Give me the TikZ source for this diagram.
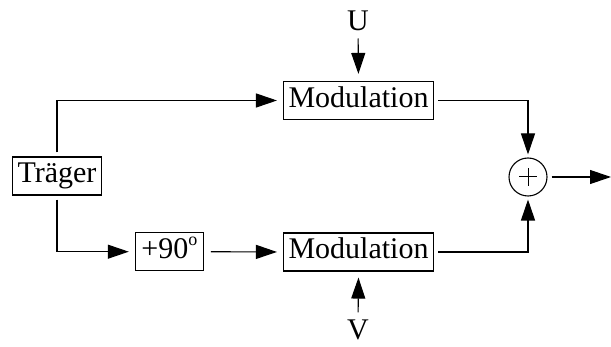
\documentclass[tikz,border=0pt]{standalone}
\usepackage{fontspec}
\setmainfont{Liberation Serif}
\usetikzlibrary{arrows.meta}
\begin{document}
\begin{tikzpicture}[x=1pt,y=-1pt,
  font=\fontsize{30}{32}\selectfont,
  blk/.style={draw,line width=1.1pt,inner xsep=5pt,inner ysep=0pt,
    minimum height=38pt,text height=20pt,text depth=6pt},
  conn/.style={line width=1.1pt,-{Triangle[length=21pt,width=14pt]},
    shorten >=6pt,shorten <=4pt}]
\useasboundingbox (0,0) rectangle (611,347);
% blocks
\node[blk] (tr) at (57,176) {Träger};
\node[blk,inner xsep=6pt] (ph) at (169.3,251.7) {+90\raisebox{13pt}{\fontsize{18}{18}\selectfont o}};
\node[blk] (m1) at (358.5,100.5) {Modulation};
\node[blk] (m2) at (358.5,252) {Modulation};
\node[draw,circle,line width=1.1pt,minimum size=38pt,inner sep=0pt] (sum) at (528,177) {};
\draw[line width=1pt] ([xshift=-9pt]sum.center) -- ([xshift=9pt]sum.center)
  ([yshift=-9pt]sum.center) -- ([yshift=9pt]sum.center);
% inputs
\node (u) at (358,21) {U};
\node (v) at (358,330) {V};
\coordinate (out) at (617,177);
% connectors
\draw[conn] (tr.north) |- (m1.west);
\draw[conn] (tr.south) |- (ph.west);
\draw[conn,shorten <=7pt] (ph.east) -- (m2.west);
\draw[conn,shorten >=7pt] (u) -- (m1.north);
\draw[conn,shorten >=6pt] (v) -- (m2.south);
\draw[conn,shorten >=3pt] (m1.east) -| (sum.north);
\draw[conn,shorten >=3pt] (m2.east) -| (sum.south);
\draw[conn,shorten >=6pt] (sum.east) -- (out);
\end{tikzpicture}
\end{document}
